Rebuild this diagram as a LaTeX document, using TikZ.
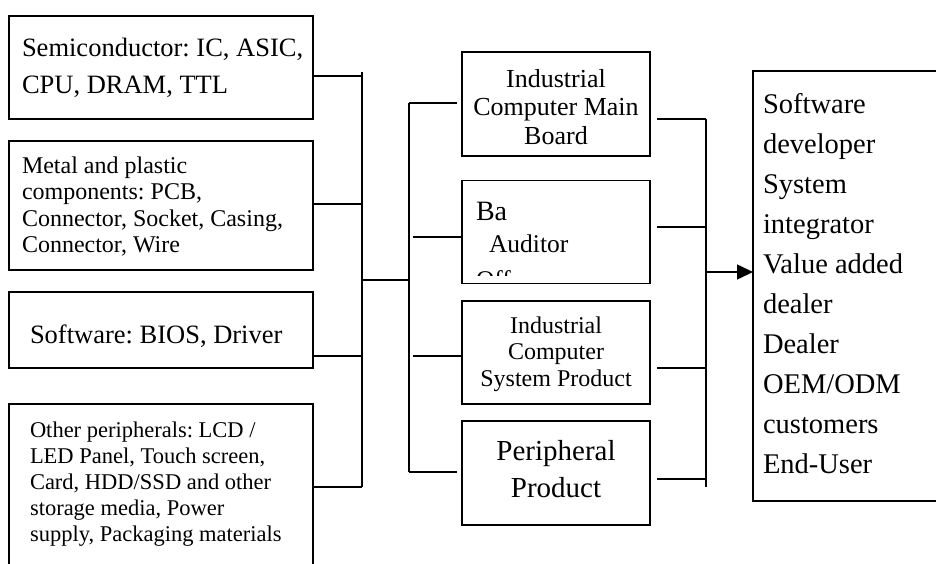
\documentclass[tikz,border=0pt]{standalone}
\usepackage{fontspec}
\setmainfont{Liberation Serif}
\usetikzlibrary{arrows.meta}
\frenchspacing
\tikzset{
  boxst/.style={draw, rectangle, line width=1.5pt, inner sep=0pt, outer sep=0pt},
  link/.style={line width=1.3pt},
  txt/.style={inner sep=0pt, outer sep=0pt},
}
\begin{document}
\frenchspacing
\begin{tikzpicture}[x=1pt,y=-1pt]
\useasboundingbox (0,0) rectangle (936,563);
\clip (0,0) rectangle (936,563);

% boxes
\node[boxst, minimum width=304pt, minimum height=103pt] (semi)  at (161,67.5) {};
\node[boxst, minimum width=304pt, minimum height=129pt] (metal) at (161,205.5) {};
\node[boxst, minimum width=304pt, minimum height=76pt]  (soft)  at (161,330) {};
\node[boxst, minimum width=304pt, minimum height=196pt] (other) at (161,502) {};
\node[boxst, minimum width=188pt, minimum height=104pt] (mb1) at (556,104) {};
\node[boxst, minimum width=188pt, minimum height=103pt] (mb2) at (556,232) {};
\node[boxst, minimum width=188pt, minimum height=103pt] (mb3) at (556,352.5) {};
\node[boxst, minimum width=188pt, minimum height=104pt] (mb4) at (556,473) {};
\node[boxst, minimum width=207pt, minimum height=430pt] (cust) at (856.5,286) {};

% texts
\foreach \t [count=\i from 0] in {{Semiconductor: IC, ASIC,},{CPU, DRAM, TTL}}
  \node[txt, anchor=base west, font=\fontsize{26.5}{30}\selectfont] (semit\i) at (22,56+37*\i) {\t};
\foreach \t [count=\i from 0] in {{Metal and plastic},{components: PCB,},{Connector, Socket, Casing,},{Connector, Wire}}
  \node[txt, anchor=base west, font=\fontsize{24}{27}\selectfont] (metalt\i) at (22,173.5+26.3*\i) {\t};
\node[txt, anchor=base west, font=\fontsize{26.5}{30}\selectfont] (softt) at (30,343) {Software: BIOS, Driver};
\foreach \t [count=\i from 0] in {{Other peripherals: LCD /},{LED Panel, Touch screen,},{Card, HDD/SSD and other},{storage media, Power},{supply, Packaging materials}}
  \node[txt, anchor=base west, font=\fontsize{22.5}{26}\selectfont] (othert\i) at (30,437+26.2*\i) {\t};

\foreach \t [count=\i from 0] in {Industrial,{Computer Main},Board}
  \node[txt, anchor=base, font=\fontsize{26}{29}\selectfont] (mbat\i) at (556,87+28.5*\i) {\t};
\node[txt, anchor=base west, font=\fontsize{28}{30}\selectfont] (mbbt0) at (476,220) {Ba};
\node[txt, anchor=base west, font=\fontsize{25.5}{28}\selectfont] (mbbt1) at (489,252) {Auditor};
\begin{scope}
  \clip (462,181) rectangle (650,275);
  \node[txt, anchor=base west, font=\fontsize{25.5}{28}\selectfont] (mbbt2) at (476,288) {Off};
\end{scope}
\foreach \t [count=\i from 0] in {Industrial,Computer,{System Product}}
  \node[txt, anchor=base, font=\fontsize{24}{27}\selectfont] (mbct\i) at (556,333+26.5*\i) {\t};
\foreach \t [count=\i from 0] in {Peripheral,Product}
  \node[txt, anchor=base, font=\fontsize{29}{32}\selectfont] (mbdt\i) at (556,460.5+36.8*\i) {\t};
\foreach \t [count=\i from 0] in {Software,developer,System,integrator,{Value added},dealer,Dealer,{OEM/ODM},customers,End-User}
  \node[txt, anchor=base west, font=\fontsize{28.5}{32}\selectfont] (custt\i) at (763,113+40*\i) {\t};

% left bus
\coordinate (lt) at (362,72);
\coordinate (j1) at (362,76);
\coordinate (j2) at (362,204);
\coordinate (j3) at (362,356);
\coordinate (j4) at (362,487);
\coordinate (j5) at (362,280);
\draw[link] (semi.east |- j1) -- (j1);
\draw[link] (metal.east |- j2) -- (j2);
\draw[link] (soft.east |- j3) -- (j3);
\draw[link] (other.east |- j4) -- (j4);
\draw[link] (lt) -- (j4);

% middle bus
\coordinate (m5) at (409,280);
\coordinate (mt) at (409,103);
\coordinate (mb) at (409,472);
\coordinate (m2) at (413,237);
\coordinate (m3) at (413,356);
\draw[link] (j5) -- (m5);
\draw[link] (mt) -- (mb);
\draw[link] (mt) -- ([xshift=-5pt]mb1.west |- mt);
\draw[link] (m2) -- (mb2.west |- m2);
\draw[link] (m3) -- (mb3.west |- m3);
\draw[link] (mb) -- ([xshift=-5pt]mb4.west |- mb);

% right bus
\coordinate (r1) at (706,119);
\coordinate (r2) at (706,227);
\coordinate (r3) at (706,368);
\coordinate (r4) at (706,479);
\coordinate (rb) at (706,487);
\coordinate (ra) at (706,272);
\draw[link] ([xshift=7pt]mb1.east |- r1) -- (r1);
\draw[link] ([xshift=7pt]mb2.east |- r2) -- (r2);
\draw[link] ([xshift=7pt]mb3.east |- r3) -- (r3);
\draw[link] ([xshift=7pt]mb4.east |- r4) -- (r4);
\draw[link] (r1) -- (rb);
\draw[link, -{Triangle[length=16pt,width=15pt]}] (ra) -- (cust.west |- ra);
\end{tikzpicture}
\end{document}
